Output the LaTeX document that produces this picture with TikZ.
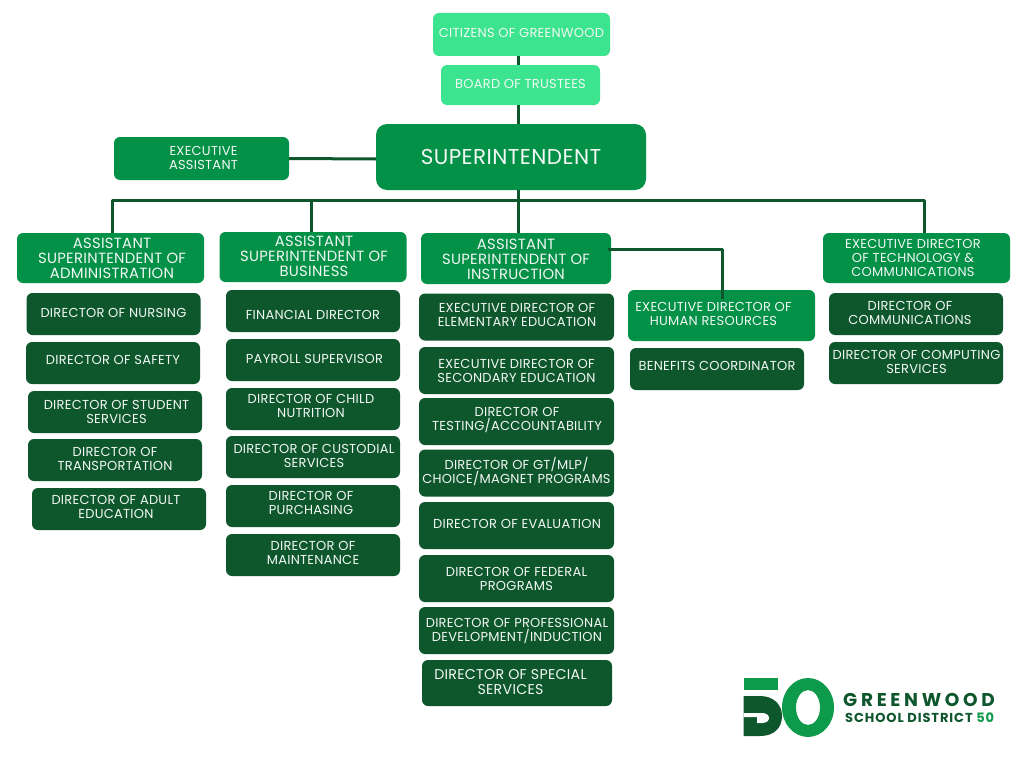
\documentclass[tikz,border=0pt]{standalone}
\usepackage{fontspec}
\setmainfont{Poppins}[LetterSpace = 2]
\definecolor{palegreen}{HTML}{3DE48F}
\definecolor{midgreen}{HTML}{039047}
\definecolor{darkgreen}{HTML}{0E562C}
\definecolor{logogreen}{HTML}{0E9A4B}
\definecolor{paletext}{HTML}{F2F8F4}
\newcommand{\nudge}[3]{\raisebox{\dimexpr-.25em-#2pt-1.5pt\relax}[0pt][0pt]{\makebox[0pt]{\hspace{#1pt}\hspace{#1pt}\begin{tabular}{@{}c@{}}#3\end{tabular}}}}
\begin{document}
\begin{tikzpicture}[x = 1pt, y = -1pt,
        box/.style = {rounded corners = 6pt, text = paletext, inner sep = 0pt, align = center, font = \fontsize{13}{14}\selectfont},
        topbox/.style = {box, fill = palegreen},
        leadbox/.style = {box, fill = midgreen, minimum width = 187pt, minimum height = 50pt, font = \fontsize{14.8}{15}\selectfont},
        dirbox/.style = {box, fill = darkgreen, minimum width = 174pt, minimum height = 42pt},
        instbox/.style = {box, fill = darkgreen, minimum width = 195pt, minimum height = 47pt},
        link/.style = {draw = darkgreen, line width = 3pt}]
    \useasboundingbox (0, 0) rectangle (1024, 768);
    \fill [white] (0, 0) rectangle (1024, 768);
    % top of the chart
    \node [topbox, minimum width = 177pt, minimum height = 43pt] (citizens) at (521.5, 34.5) {\nudge{0}{-1.5}{CITIZENS OF GREENWOOD}};
    \node [topbox, minimum width = 159pt, minimum height = 40pt] (board) at (520.5, 85) {\nudge{0}{-1.5}{BOARD OF TRUSTEES}};
    \node [box, fill = midgreen, rounded corners = 11pt, minimum width = 270pt, minimum height = 66pt, font = \fontsize{21.5}{23}\selectfont] (super) at (511, 157) {\nudge{0}{1.5}{SUPERINTENDENT}};
    \node [box, fill = midgreen, minimum width = 175pt, minimum height = 43pt] (assistant) at (201.5, 158.5) {\nudge{2}{-1}{EXECUTIVE\\ASSISTANT}};
    % column heads
    \node [leadbox] (admin) at (110.5, 258) {\nudge{1.5}{0.5}{ASSISTANT\\SUPERINTENDENT OF\\ADMINISTRATION}};
    \node [leadbox] (business) at (313, 257) {\nudge{1}{-0.5}{ASSISTANT\\SUPERINTENDENT OF\\BUSINESS}};
    \node [leadbox, minimum width = 190pt, minimum height = 51pt] (instruction) at (516, 258.5) {\nudge{0}{1.5}{ASSISTANT\\SUPERINTENDENT OF\\INSTRUCTION}};
    \node [leadbox, minimum height = 51pt, font = \fontsize{13}{14}\selectfont] (hr) at (721.5, 315.5) {\nudge{-8}{-1.5}{EXECUTIVE DIRECTOR OF\\HUMAN RESOURCES}};
    \node [leadbox, font = \fontsize{13}{14}\selectfont] (tech) at (916.5, 258) {\nudge{-3.5}{0}{EXECUTIVE DIRECTOR\\OF TECHNOLOGY \&\\COMMUNICATIONS}};
    % administration
    \node [dirbox] (nursing) at (113.5, 314) {\nudge{0}{-1}{DIRECTOR OF NURSING}};
    \node [dirbox] (safety) at (113, 363) {\nudge{0}{-3.5}{DIRECTOR OF SAFETY}};
    \node [dirbox] (student) at (115, 412) {\nudge{1.5}{0}{DIRECTOR OF STUDENT\\SERVICES}};
    \node [dirbox] (transport) at (115, 460) {\nudge{0}{-1}{DIRECTOR OF\\TRANSPORTATION}};
    \node [dirbox] (adult) at (119, 509) {\nudge{-3}{-2}{DIRECTOR OF ADULT\\EDUCATION}};
    % business
    \node [dirbox] (financial) at (313, 311) {\nudge{0}{4}{FINANCIAL DIRECTOR}};
    \node [dirbox] (payroll) at (313, 360) {\nudge{1.5}{-1}{PAYROLL SUPERVISOR}};
    \node [dirbox] (child) at (313, 409) {\nudge{-2}{-3}{DIRECTOR OF CHILD\\NUTRITION}};
    \node [dirbox] (custodial) at (313, 457) {\nudge{1}{-1}{DIRECTOR OF CUSTODIAL\\SERVICES}};
    \node [dirbox] (purchasing) at (313, 506) {\nudge{-2}{-3}{DIRECTOR OF\\PURCHASING}};
    \node [dirbox] (maintenance) at (313, 555) {\nudge{0}{-2}{DIRECTOR OF\\MAINTENANCE}};
    % instruction
    \node [instbox] (elementary) at (516.5, 317) {\nudge{0.5}{-2}{EXECUTIVE DIRECTOR OF\\ELEMENTARY EDUCATION}};
    \node [instbox] (secondary) at (516.5, 370.5) {\nudge{0}{0.5}{EXECUTIVE DIRECTOR OF\\SECONDARY EDUCATION}};
    \node [instbox] (testing) at (516.5, 421.5) {\nudge{0.5}{-2.5}{DIRECTOR OF\\\smash{TESTING/ACCOUNTABILITY}}};
    \node [instbox] (gt) at (516.5, 473) {\nudge{0}{-1}{\smash{DIRECTOR OF GT/MLP/}\\\smash{CHOICE/MAGNET PROGRAMS}}};
    \node [instbox] (evaluation) at (516.5, 525.5) {\nudge{0.5}{-1.5}{DIRECTOR OF EVALUATION}};
    \node [instbox] (federal) at (516.5, 578.5) {\nudge{0}{0.5}{DIRECTOR OF FEDERAL\\PROGRAMS}};
    \node [instbox] (professional) at (516.5, 630.5) {\nudge{0.5}{-0.5}{DIRECTOR OF PROFESSIONAL\\\smash{DEVELOPMENT/INDUCTION}}};
    \node [instbox, minimum width = 190pt, minimum height = 46pt, font = \fontsize{14.2}{15}\selectfont] (special) at (517, 683) {\nudge{-6.5}{0}{DIRECTOR OF SPECIAL\\SERVICES}};
    % human resources and technology
    \node [dirbox] (benefits) at (717, 369) {\nudge{0}{-3}{BENEFITS COORDINATOR}};
    \node [dirbox] (communications) at (916, 314) {\nudge{-6}{-1}{DIRECTOR OF\\COMMUNICATIONS}};
    \node [dirbox] (computing) at (916, 363) {\nudge{0.5}{-1}{DIRECTOR OF COMPUTING\\SERVICES}};
    % connectors
    \coordinate (spine) at (518, 200);
    \coordinate (adminrail) at (112, 200);
    \coordinate (businessrail) at (311, 200);
    \coordinate (techrail) at (924, 200);
    \coordinate (hrcorner) at (722, 249);
    \coordinate (assistantend) at (376, 159);
    \draw [link] (spine |- citizens.south) -- (spine |- board.north);
    \draw [link] (spine |- board.south) -- (spine |- super.north);
    \draw [link] (assistant.east) -- (assistantend);
    \draw [link] (spine |- super.south) -- (spine |- instruction.north);
    \draw [link, line join = round] (adminrail |- admin.north) -- (adminrail) -- (techrail) -- (techrail |- tech.north);
    \draw [link] (businessrail) -- (businessrail |- business.north);
    \draw [link, line join = round, shorten <= -3pt, shorten >= -9pt] (hrcorner -| instruction.east) -- (hrcorner) -- (hrcorner |- hr.north);
    % logo
    \fill [logogreen] (743.5, 678) rectangle (778, 690);
    \fill [darkgreen] (743.5, 696) -- (760, 696) .. controls (774, 696) and (782, 705) .. (782, 716) .. controls (782, 728) and (774, 736) .. (760, 736) -- (743.5, 736) -- cycle;
    \fill [white] (743.5, 713) -- (762, 713) .. controls (766, 713) and (769, 715) .. (769, 718) .. controls (769, 721) and (766, 723) .. (762, 723) -- (757, 723) -- (757, 717) -- (743.5, 717) -- cycle;
    \fill [logogreen, even odd rule] (808, 707.5) ellipse [x radius = 26, y radius = 29.5] (808, 707.5) ellipse [x radius = 12, y radius = 17.5];
    \node [anchor = west, inner sep = 0pt, text = darkgreen, font = \fontsize{18.5}{20}\bfseries\selectfont\addfontfeatures{LetterSpace = 20}] (greenwood) at (843, 699.5) {GREENWOOD};
    \node [anchor = west, inner sep = 0pt, text = darkgreen, font = \fontsize{13}{14}\bfseries\selectfont\addfontfeatures{LetterSpace = 7}] (district) at (845, 717.5) {SCHOOL DISTRICT \textcolor{logogreen}{50}};
\end{tikzpicture}
\end{document}
